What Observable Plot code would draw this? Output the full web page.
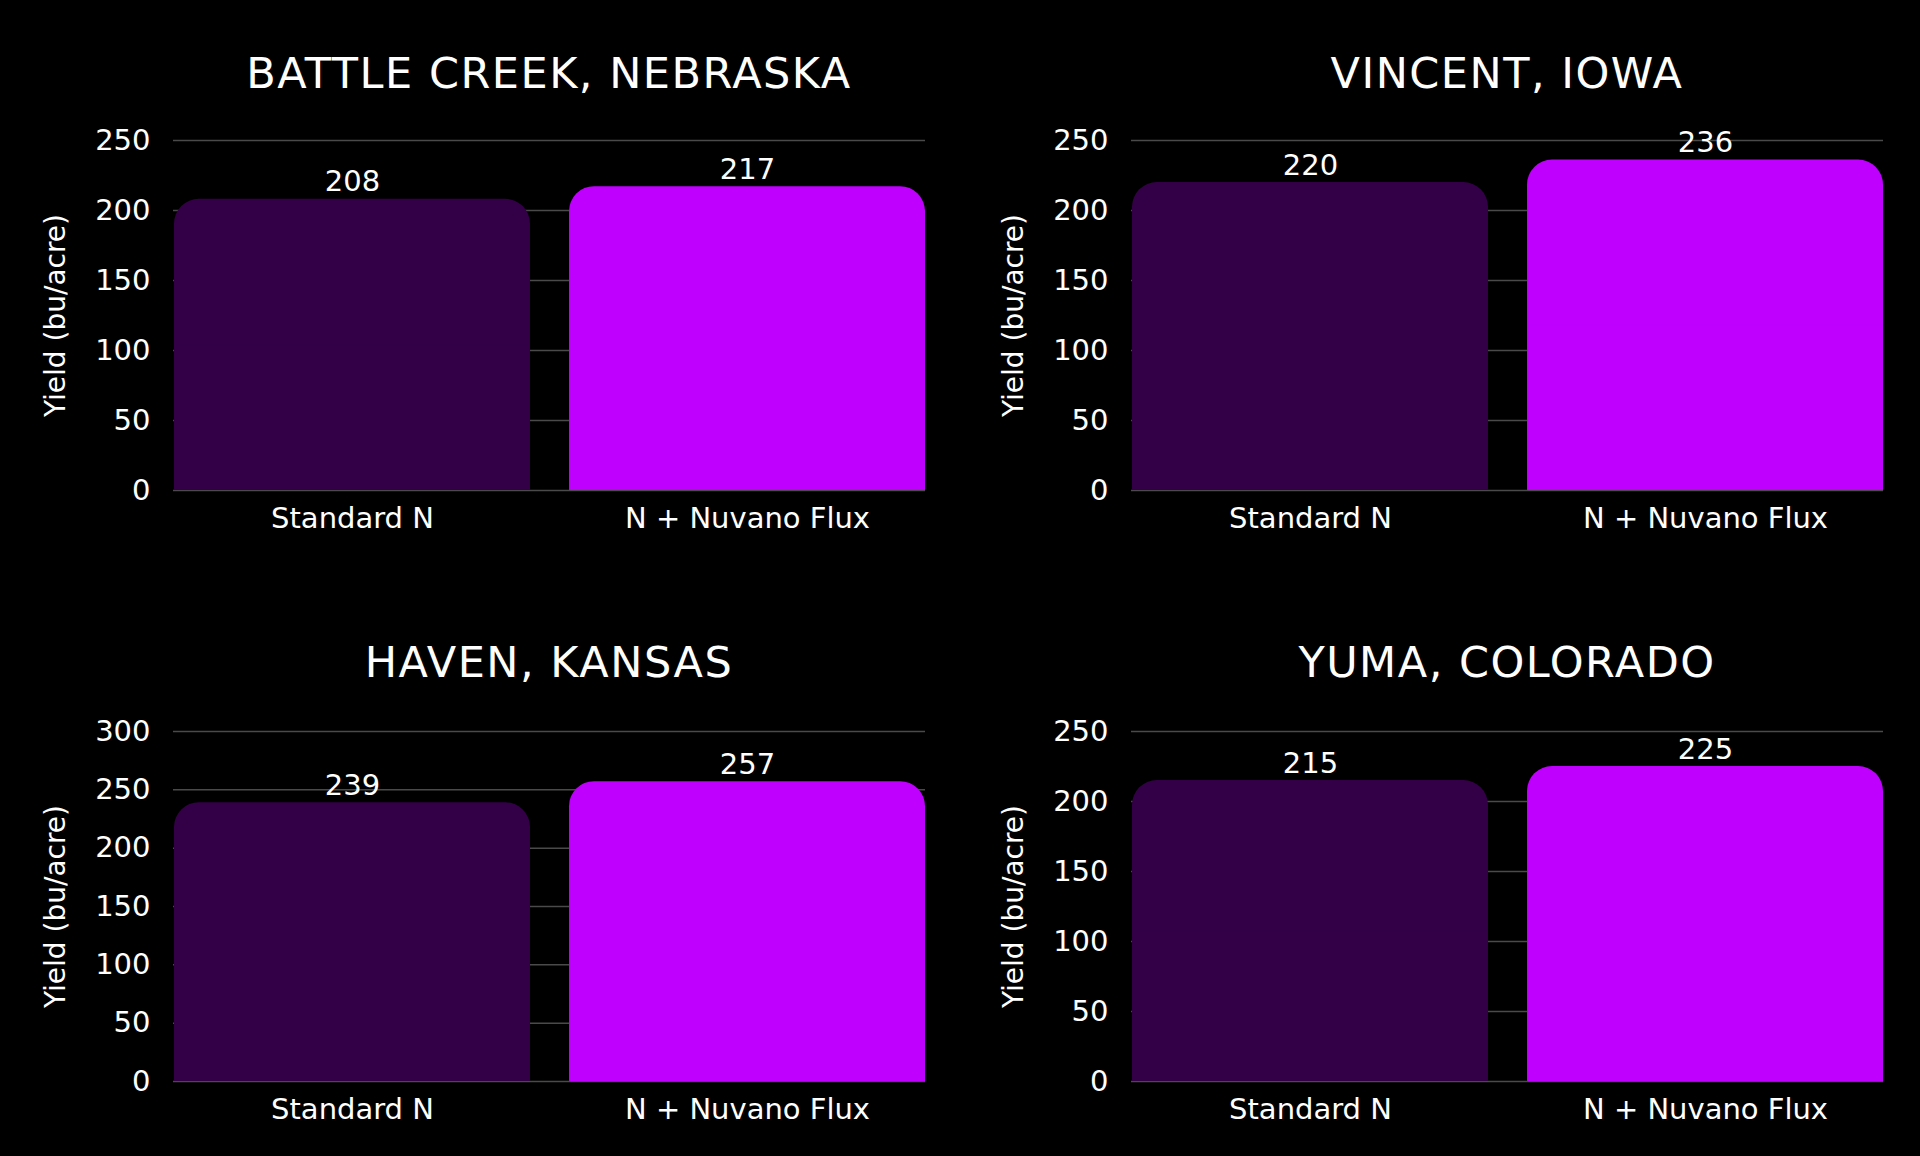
<!DOCTYPE html>
<html>
<head>
<meta charset="utf-8">
<script src="https://cdn.jsdelivr.net/npm/d3@7"></script>
<script src="https://cdn.jsdelivr.net/npm/@observablehq/plot@0.6"></script>
<style>
  html, body { margin: 0; padding: 0; background: #000; }
  body { width: 1920px; height: 1156px; position: relative; overflow: hidden; font-family: "DejaVu Sans", sans-serif; }
  .title { position: absolute; color: #fff; font-size: 43px; font-weight: 400; letter-spacing: 1.5px; text-align: center; line-height: 1; white-space: nowrap; }
  .panel { position: absolute; }
</style>
</head>
<body>
<script>
// ---- data ----
const locations = ["BATTLE CREEK, NEBRASKA", "VINCENT, IOWA", "HAVEN, KANSAS", "YUMA, COLORADO"];
const treatments = ["Standard N", "N + Nuvano Flux"];
const standardN = [208, 220, 239, 215];
const nuvanoFlux = [217, 236, 257, 225];
const yMax = [250, 250, 300, 250];
const yTickStep = 50;
const yLabel = "Yield (bu/acre)";
const barColors = ["#330047", "#BF00FF"];

// ---- layout ----
const panels = [
  {left: 0, top: 110, ml: 173, mr: 35, titleY: 52},
  {left: 958, top: 110, ml: 173, mr: 35, titleY: 52},
  {left: 0, top: 701, ml: 173, mr: 35, titleY: 641},
  {left: 958, top: 701, ml: 173, mr: 35, titleY: 641}
];
const W = 960, H = 440;
const font = "'DejaVu Sans', sans-serif";

locations.forEach((loc, i) => {
  const p = panels[i];
  const data = treatments.map((t, j) => ({treatment: t, value: j === 0 ? standardN[i] : nuvanoFlux[i]}));
  const ticks = d3.range(0, yMax[i] + 1, yTickStep);

  const chart = Plot.plot({
    width: W,
    height: H,
    marginLeft: p.ml,
    marginRight: p.mr,
    marginTop: 30,
    marginBottom: 60,
    style: {background: "transparent", color: "#fff", fontFamily: font, fontSize: "28px", overflow: "visible"},
    x: {domain: treatments, paddingInner: 0.1, paddingOuter: 0, label: null},
    y: {domain: [0, yMax[i]], ticks, label: null},
    color: {domain: treatments, range: barColors},
    marks: [
      Plot.gridY(ticks, {stroke: "#4a4a4a", strokeOpacity: 1, strokeWidth: 1.5}),
      Plot.barY(data, {x: "treatment", y: "value", fill: "treatment", rx: 25, inset: 0}),
      Plot.barY(data, {x: "treatment", y: d => d.value / 2, fill: "treatment", inset: 0}),
      Plot.text(data, {x: "treatment", y: "value", text: d => String(d.value), fill: "#fff", fontSize: 29, lineAnchor: "bottom", dy: -8}),
      Plot.axisX({tickSize: 0, tickPadding: 17, fontSize: 29, fill: "#fff", label: null}),
      Plot.axisY(ticks, {tickSize: 0, tickPadding: 23, fontSize: 29, fill: "#fff", label: null}),
      Plot.text([yLabel], {frameAnchor: "left", dx: -117, rotate: -90, fill: "#fff", fontSize: 28, textAnchor: "middle", lineAnchor: "middle"})
    ]
  });
  const wrap = document.createElement("div");
  wrap.className = "panel";
  wrap.style.left = p.left + "px";
  wrap.style.top = p.top + "px";
  wrap.appendChild(chart);
  document.body.appendChild(wrap);

  const title = document.createElement("div");
  title.className = "title";
  title.textContent = loc;
  title.style.left = (p.left + p.ml) + "px";
  title.style.width = (W - p.ml - p.mr) + "px";
  title.style.top = p.titleY + "px";
  document.body.appendChild(title);
});
</script>
</body>
</html>
